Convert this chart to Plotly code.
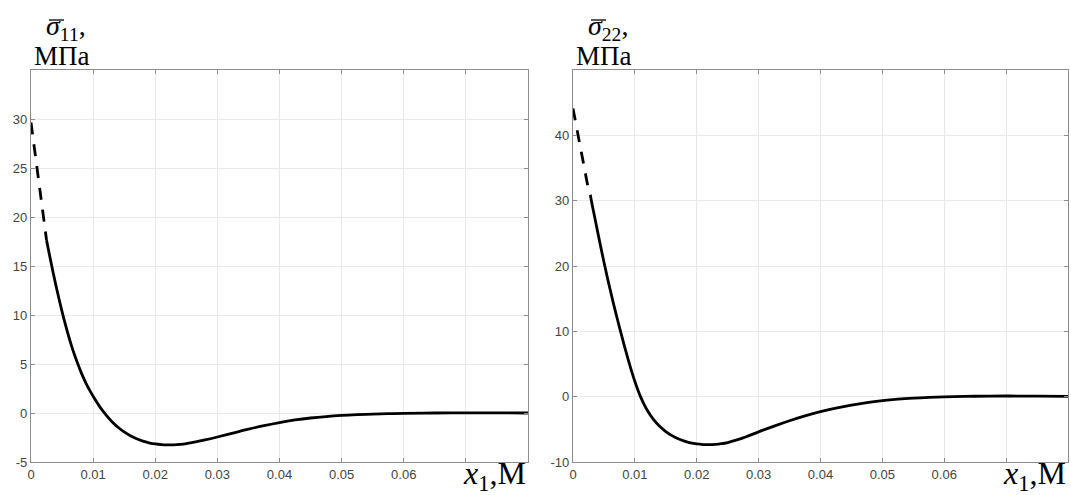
import plotly.graph_objects as go
from plotly.subplots import make_subplots

# ---- data ----
x11_dash = [0.0, 0.0005, 0.001, 0.0015, 0.002, 0.0025]
y11_dash = [29.65, 27.15, 24.7, 22.3, 19.95, 17.65]
x11 = [0.0025, 0.003, 0.0035, 0.004, 0.0045, 0.005, 0.0055, 0.006, 0.0065, 0.007,
       0.0075, 0.008, 0.0085, 0.009, 0.0095, 0.010, 0.011, 0.012, 0.013, 0.014,
       0.015, 0.016, 0.017, 0.018, 0.019, 0.020, 0.021, 0.022, 0.023, 0.024,
       0.025, 0.0265, 0.028, 0.030, 0.0325, 0.035, 0.0375, 0.040, 0.0425, 0.045,
       0.0475, 0.050, 0.0525, 0.055, 0.0575, 0.060, 0.065, 0.070, 0.075, 0.080]
y11 = [17.64, 16.05, 14.52, 13.05, 11.66, 10.35, 9.11, 7.96, 6.9, 5.94,
       5.07, 4.25, 3.51, 2.85, 2.25, 1.7, 0.7, -0.15, -0.86, -1.45,
       -1.93, -2.32, -2.63, -2.87, -3.04, -3.16, -3.23, -3.26, -3.25, -3.2,
       -3.12, -2.95, -2.75, -2.45, -2.05, -1.65, -1.29, -0.97, -0.71, -0.51,
       -0.36, -0.25, -0.17, -0.11, -0.07, -0.04, 0.0, 0.02, 0.01, 0.0]

x22_dash = [0.0, 0.0005, 0.001, 0.0015, 0.002, 0.0025, 0.0028]
y22_dash = [44.1, 41.5, 39.0, 36.5, 34.05, 31.7, 30.85]
x22 = [0.0028, 0.003, 0.0035, 0.004, 0.0045, 0.005, 0.0055, 0.006, 0.0065, 0.007,
       0.0075, 0.008, 0.0085, 0.009, 0.0095, 0.010, 0.0105, 0.011, 0.0115, 0.012,
       0.013, 0.014, 0.015, 0.016, 0.017, 0.018, 0.019, 0.020, 0.021, 0.022,
       0.023, 0.024, 0.025, 0.0265, 0.028, 0.030, 0.0325, 0.035, 0.0375, 0.040,
       0.0425, 0.045, 0.0475, 0.050, 0.0525, 0.055, 0.0575, 0.060, 0.065, 0.070,
       0.075, 0.080]
y22 = [30.85, 29.85, 27.5, 25.15, 22.85, 20.6, 18.45, 16.4, 14.4, 12.5,
       10.65, 8.85, 7.1, 5.4, 3.8, 2.33, 1.0, -0.18, -1.2, -2.09,
       -3.49, -4.54, -5.34, -5.96, -6.44, -6.81, -7.08, -7.24, -7.33, -7.35,
       -7.31, -7.2, -7.02, -6.62, -6.14, -5.38, -4.5, -3.68, -2.94, -2.3,
       -1.76, -1.3, -0.92, -0.62, -0.39, -0.22, -0.1, -0.02, 0.06, 0.1,
       0.08, 0.05]

x_tickvals = [0, 0.01, 0.02, 0.03, 0.04, 0.05, 0.06, 0.07, 0.08]
x_ticktext = ["0", "0.01", "0.02", "0.03", "0.04", "0.05", "0.06", "", ""]
y1_tickvals = [-5, 0, 5, 10, 15, 20, 25, 30, 35]
y1_ticktext = ["-5", "0", "5", "10", "15", "20", "25", "30", ""]
y2_tickvals = [-10, 0, 10, 20, 30, 40, 50]
y2_ticktext = ["-10", "0", "10", "20", "30", "40", ""]

W, H = 1071, 495
ML, MR, MT, MB = 31, 3, 70, 33
PW = W - ML - MR
PH = H - MT - MB
d1 = [0, (528 - ML) / PW]
d2 = [(573 - ML) / PW, 1]

fig = make_subplots(rows=1, cols=2)
fig.update_layout(xaxis=dict(domain=d1), xaxis2=dict(domain=d2))

lw = 2.8
fig.add_trace(go.Scatter(x=x11_dash, y=y11_dash, mode="lines",
                         line=dict(color="black", width=lw, dash="12px,10px"),
                         showlegend=False), row=1, col=1)
fig.add_trace(go.Scatter(x=x11, y=y11, mode="lines",
                         line=dict(color="black", width=lw, shape="spline", smoothing=1.0),
                         showlegend=False), row=1, col=1)
fig.add_trace(go.Scatter(x=x22_dash, y=y22_dash, mode="lines",
                         line=dict(color="black", width=lw, dash="12px,10px"),
                         showlegend=False), row=1, col=2)
fig.add_trace(go.Scatter(x=x22, y=y22, mode="lines",
                         line=dict(color="black", width=lw, shape="spline", smoothing=1.0),
                         showlegend=False), row=1, col=2)

tickfont = dict(family="Liberation Sans, Arial, sans-serif", size=13, color="#444444")
axcommon = dict(showgrid=True, gridcolor="#e9e9e9", gridwidth=1, zeroline=False,
                showline=True, linecolor="#8c8c8c", linewidth=1.2, mirror="ticks",
                ticks="inside", ticklen=4, tickcolor="#8c8c8c", tickfont=tickfont,
                automargin=False)

fig.update_xaxes(range=[0, 0.08], tickvals=x_tickvals, ticktext=x_ticktext, **axcommon)
fig.update_yaxes(**axcommon)
fig.update_yaxes(range=[-5, 35], tickvals=y1_tickvals, ticktext=y1_ticktext, row=1, col=1)
fig.update_yaxes(range=[-10, 50], tickvals=y2_tickvals, ticktext=y2_ticktext, row=1, col=2)

serif = "Liberation Serif, Times New Roman, serif"
ann = []
shapes = []
for dom, sub in ((d1, "11"), (d2, "22")):
    x0px = ML + dom[0] * PW
    ann.append(dict(xref="paper", yref="paper", x=dom[0] + 13 / PW, y=1, xanchor="left",
                    yanchor="bottom", yshift=23, showarrow=False,
                    text="<i>σ</i><sub>" + sub + "</sub>,",
                    font=dict(family=serif, size=28, color="black")))
    shapes.append(dict(type="line", xref="paper", yref="paper",
                       x0=(x0px + 18 - ML) / PW, x1=(x0px + 33 - ML) / PW,
                       y0=(H - MB - 20) / PH, y1=(H - MB - 20) / PH,
                       line=dict(color="black", width=1.3)))
    ann.append(dict(xref="paper", yref="paper", x=dom[0] + 1 / PW, y=1, xanchor="left",
                    yanchor="bottom", yshift=-3, showarrow=False, text="МПа",
                    font=dict(family=serif, size=27, color="black")))
    ann.append(dict(xref="paper", yref="paper", x=dom[1], y=0, xanchor="right",
                    yanchor="middle", yshift=-13, showarrow=False,
                    text="<i>x</i><sub>1</sub>,М",
                    font=dict(family=serif, size=32, color="black")))

fig.update_layout(width=W, height=H, margin=dict(l=ML, r=MR, t=MT, b=MB, autoexpand=False),
                  paper_bgcolor="white", plot_bgcolor="white", annotations=ann, shapes=shapes)

fig.write_html("out.html", config={"displayModeBar": False},
               post_script="document.body.style.margin='0';")
